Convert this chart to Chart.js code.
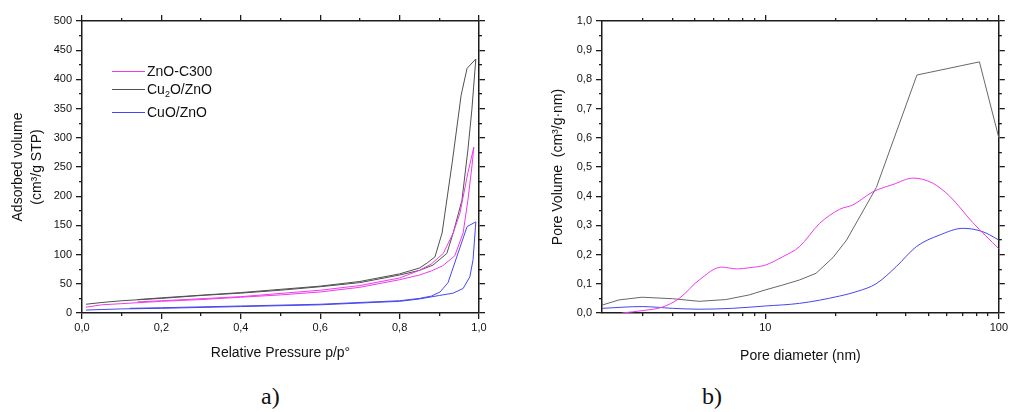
<!DOCTYPE html>
<html>
<head>
<meta charset="utf-8">
<script src="https://cdn.jsdelivr.net/npm/chart.js@4.4.0/dist/chart.umd.min.js"></script>
<style>
    html, body { margin: 0; padding: 0; background: #fff; }
    body { width: 1010px; height: 412px; position: relative; overflow: hidden; font-family: "Liberation Sans", Arial, sans-serif; }
    canvas { position: absolute; top: 0; }
    #iso_canvas { left: 0; }
    #pore_canvas { left: 520px; }
    .panel_label { position: absolute; top: 384px; font-family: "Liberation Serif", "DejaVu Serif", serif; font-size: 24px; line-height: 24px; color: #111; }
    #legend { position: absolute; left: 112px; top: 62px; font-size: 14px; color: #111; }
    .legend_row { display: flex; align-items: center; height: 18px; }
    .legend_row.tall { height: 18px; margin-bottom: 5px; }
    .legend_line { display: block; width: 33px; height: 1px; margin-right: 2px; }
    .legend_row sub { font-size: 9px; line-height: 0; vertical-align: -3px; }
</style>
</head>
<body>
<canvas id="iso_canvas" width="520" height="370"></canvas>
<canvas id="pore_canvas" width="490" height="370"></canvas>
<div id="legend"></div>
<div class="panel_label" style="left: 261px;">a)</div>
<div class="panel_label" style="left: 702px;">b)</div>
<script>
// ---- data: a) N2 isotherms (adsorption branch up, desorption branch back down)
const series_names = ["ZnO-C300", "Cu₂O/ZnO", "CuO/ZnO"];
const series_colors = ["#ee3aee", "#505050", "#4646f0"];

const iso_znoc300_pressure = [0.01, 0.05, 0.1, 0.2, 0.3, 0.4, 0.5, 0.6, 0.7, 0.8, 0.85, 0.88, 0.909, 0.939, 0.960, 0.972, 0.982, 0.987,
                              0.972, 0.952, 0.935, 0.910, 0.88, 0.85, 0.8, 0.7, 0.6, 0.4, 0.2, 0.14];
const iso_znoc300_volume = [10, 14, 16, 20, 23, 27, 31, 36, 44, 57, 65, 72, 81, 98, 137, 193, 250, 284,
                            240, 171, 137, 102, 84, 73, 60, 47, 39, 28, 21, 19];

const iso_cu2o_pressure = [0.01, 0.05, 0.1, 0.2, 0.3, 0.4, 0.5, 0.6, 0.7, 0.8, 0.85, 0.884, 0.919, 0.935, 0.957, 0.972, 0.982, 0.992,
                           0.970, 0.955, 0.933, 0.907, 0.889, 0.87, 0.85, 0.8, 0.7, 0.6, 0.4, 0.2, 0.14];
const iso_cu2o_volume = [15, 18, 21, 25, 30, 34, 39, 45, 52, 65, 73, 82, 102, 137, 193, 279, 348, 435,
                         419, 373, 260, 137, 96, 86, 77, 67, 54, 46, 35, 26, 23];

const iso_cuo_pressure = [0.01, 0.05, 0.1, 0.2, 0.4, 0.6, 0.8, 0.85, 0.9, 0.935, 0.960, 0.977, 0.985, 0.992,
                          0.970, 0.922, 0.902, 0.88, 0.85, 0.8, 0.6, 0.4, 0.2, 0.12];
const iso_cuo_volume = [5, 6, 7, 8, 11, 14, 20, 24, 30, 34, 42, 62, 91, 156,
                        148, 52, 36, 29, 25, 21, 15, 12, 9, 8];

// ---- data: b) pore size distribution
const pore_znoc300_diameter = [2.44, 2.97, 3.62, 4.28, 5.21, 6.5, 7.6, 8.54, 10, 11.9, 14, 17.1, 20.8, 23.7, 28.9, 35.2, 43, 52, 61.6, 77.3, 100];
const pore_znoc300_volume = [0, 0.008, 0.02, 0.05, 0.113, 0.157, 0.151, 0.155, 0.164, 0.193, 0.227, 0.307, 0.355, 0.37, 0.415, 0.44, 0.462, 0.445, 0.40, 0.31, 0.22];

const pore_cu2o_diameter = [2, 2.37, 2.97, 4.0, 5.21, 6.78, 8.54, 10, 11.9, 14, 16.5, 19.5, 22.3, 29.9, 44.6, 82.6, 100];
const pore_cu2o_volume = [0.027, 0.045, 0.054, 0.049, 0.040, 0.046, 0.062, 0.079, 0.096, 0.113, 0.136, 0.19, 0.25, 0.43, 0.815, 0.86, 0.60];

const pore_cuo_diameter = [2, 2.97, 4.0, 5.21, 7.24, 10, 14, 20.8, 25, 29.8, 36.4, 44.3, 55.8, 70.2, 85.6, 100];
const pore_cuo_volume = [0.016, 0.022, 0.016, 0.013, 0.016, 0.024, 0.033, 0.058, 0.075, 0.10, 0.159, 0.227, 0.267, 0.29, 0.278, 0.25];

// ---- axis ticks
const iso_pressure_major = [0, 0.2, 0.4, 0.6, 0.8, 1.0];
const iso_pressure_minor = [0.1, 0.3, 0.5, 0.7, 0.9];
const iso_volume_major = [0, 50, 100, 150, 200, 250, 300, 350, 400, 450, 500];
const iso_volume_minor = [25, 75, 125, 175, 225, 275, 325, 375, 425, 475];
const pore_diameter_major = [10, 100];
const pore_diameter_minor = [3, 4, 5, 6, 7, 8, 9, 20, 30, 40, 50, 60, 70, 80, 90];
const pore_volume_major = [0, 0.1, 0.2, 0.3, 0.4, 0.5, 0.6, 0.7, 0.8, 0.9, 1.0];
const pore_volume_minor = [0.05, 0.15, 0.25, 0.35, 0.45, 0.55, 0.65, 0.75, 0.85, 0.95];

const AXIS_COLOR = "#1c1c1c";
const TEXT_COLOR = "#111";
const FONT_FAMILY = '"Liberation Sans", Arial, sans-serif';

function comma_decimal(value) {
    return value.toFixed(1).replace(".", ",");
}

function to_points(xs, ys) {
    return xs.map((x, i) => ({ x: x, y: ys[i] }));
}

// one axis; minor axes are zero-sized and sit right on the plot frame
function make_axis(position, type, min, max, tick_values, opts) {
    let horizontal = position === "top" || position === "bottom";
    return {
        type: type,
        axis: horizontal ? "x" : "y",
        position: position,
        min: min,
        max: max,
        weight: opts.minor ? 0 : 1,
        afterBuildTicks: scale => {
            scale.ticks = tick_values.map(v => ({ value: v }));
        },
        afterFit: scale => {
            if (horizontal) {
                scale.height = opts.size;
            } else {
                scale.width = opts.size;
            }
        },
        grid: {
            drawOnChartArea: false,
            drawTicks: true,
            tickLength: opts.minor ? 3 : 6,
            color: AXIS_COLOR,
            lineWidth: 1.3
        },
        border: { display: !opts.minor, color: AXIS_COLOR, width: 1.5 },
        ticks: {
            display: !!opts.labels,
            callback: opts.labels || (() => ""),
            autoSkip: false,
            maxRotation: 0,
            padding: horizontal ? 2 : 4,
            color: TEXT_COLOR,
            font: { family: FONT_FAMILY, size: 11 }
        },
        title: opts.title || { display: false }
    };
}

function axis_title(text, padding) {
    return {
        display: true,
        text: text,
        color: TEXT_COLOR,
        padding: padding,
        font: { family: FONT_FAMILY, size: 14, lineHeight: 1.2 }
    };
}

function line_dataset(label, color, points, smooth) {
    return {
        label: label,
        data: points,
        showLine: true,
        borderColor: color,
        backgroundColor: color,
        borderWidth: 1,
        pointRadius: 0,
        tension: smooth ? 0.4 : 0,
        cubicInterpolationMode: smooth ? "monotone" : "default"
    };
}

const common_options = {
    responsive: false,
    animation: false,
    layout: { padding: 0 },
    plugins: { legend: { display: false }, tooltip: { enabled: false } }
};

let iso_plot;

function setup_iso_plot() {
    let y_title = axis_title(["Adsorbed volume", "(cm³/g STP)"], { top: 9, bottom: 0 });
    y_title.font.lineHeight = 1.36;

    let config = {
        type: "scatter",
        data: {
            datasets: [
                line_dataset(series_names[0], series_colors[0], to_points(iso_znoc300_pressure, iso_znoc300_volume), false),
                line_dataset(series_names[1], series_colors[1], to_points(iso_cu2o_pressure, iso_cu2o_volume), false),
                line_dataset(series_names[2], series_colors[2], to_points(iso_cuo_pressure, iso_cuo_volume), false)
            ]
        },
        options: Object.assign({}, common_options, {
            scales: {
                x: make_axis("bottom", "linear", 0, 1, iso_pressure_major, {
                    size: 57, labels: comma_decimal,
                    title: axis_title("Relative Pressure p/p°", { top: 0, bottom: 8.6 })
                }),
                x_minor: make_axis("bottom", "linear", 0, 1, iso_pressure_minor, { size: 0, minor: true }),
                x_top: make_axis("top", "linear", 0, 1, iso_pressure_major, { size: 21 }),
                x_top_minor: make_axis("top", "linear", 0, 1, iso_pressure_minor, { size: 0, minor: true }),
                y: make_axis("left", "linear", 0, 500, iso_volume_major, {
                    size: 82, labels: v => String(v), title: y_title
                }),
                y_minor: make_axis("left", "linear", 0, 500, iso_volume_minor, { size: 0, minor: true }),
                y_right: make_axis("right", "linear", 0, 500, iso_volume_major, { size: 41 }),
                y_right_minor: make_axis("right", "linear", 0, 500, iso_volume_minor, { size: 0, minor: true })
            }
        })
    };

    iso_plot = new Chart(document.getElementById("iso_canvas"), config);
}

let pore_plot;

function setup_pore_plot() {
    let config = {
        type: "scatter",
        data: {
            datasets: [
                line_dataset(series_names[0], series_colors[0], to_points(pore_znoc300_diameter, pore_znoc300_volume), true),
                line_dataset(series_names[1], "#686868", to_points(pore_cu2o_diameter, pore_cu2o_volume), false),
                line_dataset(series_names[2], series_colors[2], to_points(pore_cuo_diameter, pore_cuo_volume), true)
            ]
        },
        options: Object.assign({}, common_options, {
            scales: {
                x: make_axis("bottom", "logarithmic", 2, 100, pore_diameter_major, {
                    size: 57, labels: v => String(v),
                    title: axis_title("Pore diameter (nm)", { top: 0, bottom: 5.6 })
                }),
                x_minor: make_axis("bottom", "logarithmic", 2, 100, pore_diameter_minor, { size: 0, minor: true }),
                x_top: make_axis("top", "logarithmic", 2, 100, pore_diameter_major, { size: 21 }),
                x_top_minor: make_axis("top", "logarithmic", 2, 100, pore_diameter_minor, { size: 0, minor: true }),
                y: make_axis("left", "linear", 0, 1, pore_volume_major, {
                    size: 82, labels: comma_decimal,
                    title: axis_title("Pore Volume  (cm³/g·nm)", { top: 29.6, bottom: 0 })
                }),
                y_minor: make_axis("left", "linear", 0, 1, pore_volume_minor, { size: 0, minor: true }),
                y_right: make_axis("right", "linear", 0, 1, pore_volume_major, { size: 11 }),
                y_right_minor: make_axis("right", "linear", 0, 1, pore_volume_minor, { size: 0, minor: true })
            }
        })
    };

    pore_plot = new Chart(document.getElementById("pore_canvas"), config);
}

function setup_legend() {
    let legend = document.getElementById("legend");
    series_names.forEach((name, i) => {
        let row = document.createElement("div");
        row.className = "legend_row" + (name.includes("₂") ? " tall" : "");
        let line = document.createElement("span");
        line.className = "legend_line";
        line.style.backgroundColor = series_colors[i];
        let text = document.createElement("span");
        text.innerHTML = name.replace("₂", "<sub>2</sub>");
        row.appendChild(line);
        row.appendChild(text);
        legend.appendChild(row);
    });
}

setup_iso_plot();
setup_pore_plot();
setup_legend();
</script>
</body>
</html>
